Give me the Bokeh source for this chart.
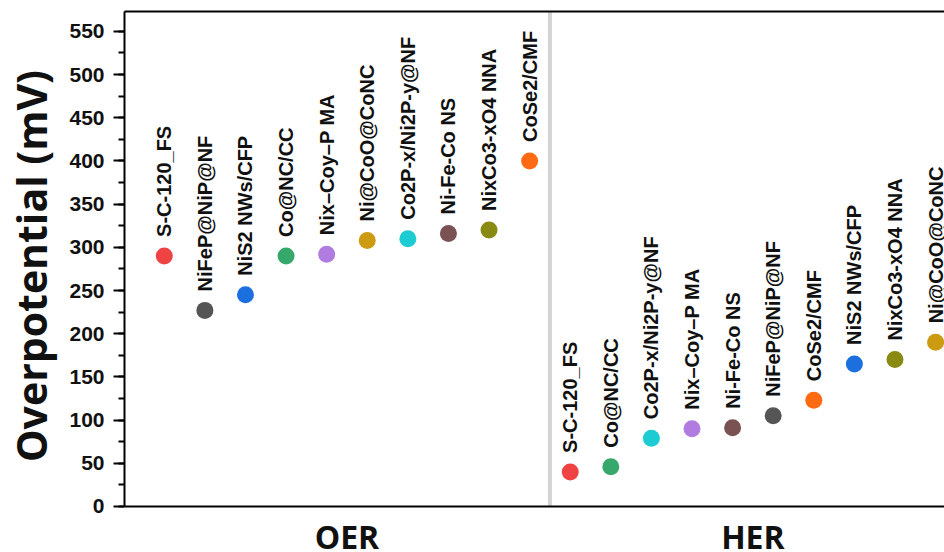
import math
from bokeh.plotting import figure
from bokeh.models import ColumnDataSource, Span, LinearAxis, FixedTicker, Range1d
from bokeh.core.properties import value
from bokeh.embed import file_html
from bokeh.resources import INLINE

categories = ["OER", "HER"]
category_centers = [4.5, 14.5]

oer_names = ["S-C-120_FS", "NiFeP@NiP@NF", "NiS2 NWs/CFP", "Co@NC/CC", "Nix\u2013Coy\u2013P MA",
             "Ni@CoO@CoNC", "Co2P-x/Ni2P-y@NF", "Ni-Fe-Co NS", "NixCo3-xO4 NNA", "CoSe2/CMF"]
oer_values = [290, 227, 245, 290, 292, 308, 310, 316, 320, 400]

her_names = ["S-C-120_FS", "Co@NC/CC", "Co2P-x/Ni2P-y@NF", "Nix\u2013Coy\u2013P MA", "Ni-Fe-Co NS",
             "NiFeP@NiP@NF", "CoSe2/CMF", "NiS2 NWs/CFP", "NixCo3-xO4 NNA", "Ni@CoO@CoNC"]
her_values = [40, 46, 79, 90, 91, 105, 123, 165, 170, 190]

y_ticks = list(range(0, 551, 50))
y_title = "Overpotential (mV)"

color_map = {
    "S-C-120_FS": "#ef4343",
    "NiFeP@NiP@NF": "#555555",
    "NiS2 NWs/CFP": "#1b6fdf",
    "Co@NC/CC": "#37a86b",
    "Nix\u2013Coy\u2013P MA": "#b07ce0",
    "Ni@CoO@CoNC": "#cc9b12",
    "Co2P-x/Ni2P-y@NF": "#1dccd3",
    "Ni-Fe-Co NS": "#7b5252",
    "NixCo3-xO4 NNA": "#898a12",
    "CoSe2/CMF": "#ff6a12",
}

names = oer_names + her_names
vals = oer_values + her_values
xs = list(range(len(names)))
cols = [color_map[n] for n in names]
src = ColumnDataSource(dict(x=xs, y=vals, name=names, color=cols))

Y_TOP = 573
p = figure(width=944, height=552, output_backend="svg", toolbar_location=None,
           x_range=Range1d(-0.98, 19.22), y_range=Range1d(-53.3, Y_TOP),
           x_axis_location=None,
           min_border_left=123, min_border_right=0, min_border_top=11, min_border_bottom=0)
p.outline_line_color = None
p.grid.visible = False
p.background_fill_color = "white"

# separator between the two groups (from the x axis up to the top)
p.segment(x0=[9.5], y0=[0], x1=[9.5], y1=[Y_TOP], line_color="#d4d4d4", line_width=4)

# x axis line at zero
p.add_layout(Span(location=0, dimension="width", line_color="black", line_width=2))

p.scatter("x", "y", source=src, size=17, color="color", line_color=None)
p.text("x", "y", text="name", source=src, angle=math.pi / 2, text_align="left",
       text_baseline="middle", y_offset=-19, text_font=value("Liberation Sans"),
       text_font_style="bold", text_font_size="20px", text_color="#111111")

# group names under the axis
cat_src = ColumnDataSource(dict(x=category_centers, y=[-34.2, -34.2], t=categories))
p.text("x", "y", text="t", source=cat_src, text_align="center", text_baseline="middle",
       text_font=value("Open Sans"), text_font_style="bold", text_font_size="32px",
       text_color="#111111")

# y axis
ya = p.yaxis[0]
ya.bounds = (0, Y_TOP)
ya.ticker = FixedTicker(ticks=y_ticks, minor_ticks=list(range(0, 576, 25)))
ya.axis_label = "\u00a0\u00a0\u00a0" + y_title
ya.axis_label_text_font = "Open Sans"
ya.axis_label_text_font_style = "bold"
ya.axis_label_text_font_size = "41px"
ya.axis_label_text_color = "#111111"
ya.axis_label_standoff = 7
ya.major_label_text_font = "Liberation Sans"
ya.major_label_text_font_style = "bold"
ya.major_label_text_font_size = "21px"
ya.major_label_text_color = "#111111"
ya.major_label_standoff = 9
ya.axis_line_width = 2
ya.major_tick_line_width = 2
ya.minor_tick_line_width = 2
ya.major_tick_out = 11
ya.major_tick_in = 0
ya.minor_tick_out = 6
ya.minor_tick_in = 0

# top border line
top = LinearAxis(major_tick_line_color=None, minor_tick_line_color=None,
                 major_label_text_font_size="0px", axis_line_width=2)
top.ticker = FixedTicker(ticks=[])
p.add_layout(top, "above")

open("out.html", "w").write(file_html(p, INLINE))
